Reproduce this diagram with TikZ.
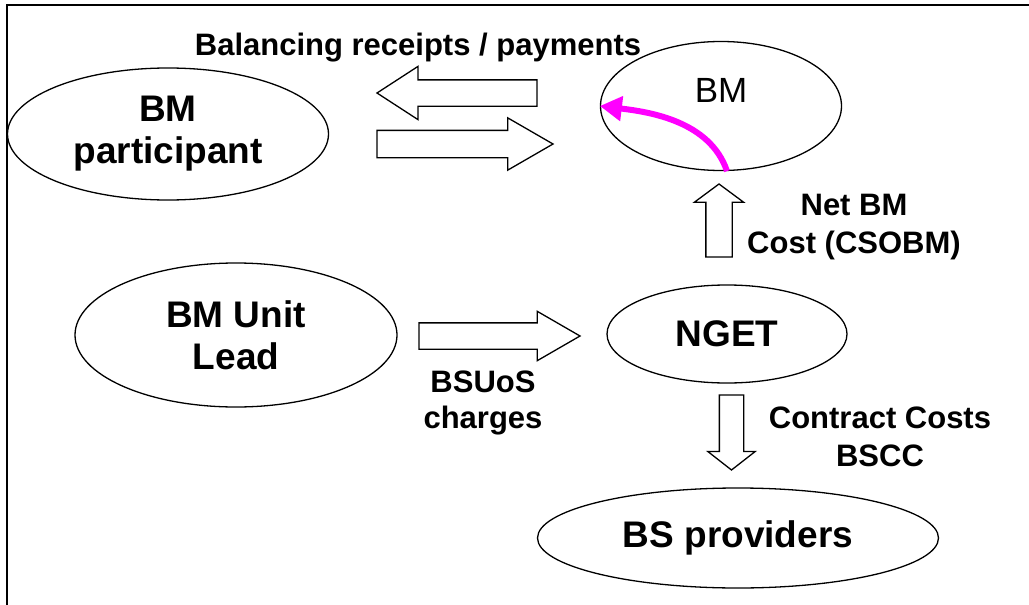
\documentclass[tikz,border=0pt]{standalone}
\usepackage{fontspec}
\setmainfont{Liberation Sans}
\usetikzlibrary{shapes, shapes.geometric, shapes.arrows, arrows.meta, positioning}
\definecolor{my_magenta}{RGB}{255, 0, 255}
\tikzset {
  party/.style = {draw, line width=1.3pt, ellipse, fill=white, text centered, align=center, inner sep=0pt, font=\bfseries\fontsize{37}{42}\selectfont},
  flow/.style = {draw, line width=1.3pt, single arrow, fill=white, inner xsep=0pt, outer sep=0pt, anchor=tail},
  note/.style = {align=center, inner sep=0pt, font=\bfseries\fontsize{31}{38}\selectfont},
  frameline/.style = {line width=1.5pt},
  recycle/.style = {-{Triangle[length=22pt, width=24pt]}, line width=6pt, color=my_magenta}
}

\begin{document}
\begin{tikzpicture}[x=1pt, y=-1pt]
    \useasboundingbox (0,0) rectangle (1029,605);
    \draw[frameline] (7,605) -- (7,5) -- (1029,5);

    % parties
    \node[party, minimum width=321pt, minimum height=132pt] (part) at (168,134) {BM\\participant};
    \node[party, minimum width=241pt, minimum height=129pt,
          label={[font=\mdseries\fontsize{35}{40}\selectfont, yshift=16pt]center:BM}] (bm) at (721,106) {};
    \node[party, minimum width=322pt, minimum height=144pt] (unit) at (236,335) {BM Unit\\Lead};
    \node[party, minimum width=240pt, minimum height=98pt] (nget) at (727,334) {NGET};
    \node[party, minimum width=401pt, minimum height=100pt] (bsp) at (738,538) {BS providers};

    % money flows (placed by their tails)
    \node[flow, rotate=180, minimum height=160pt, inner ysep=12.5pt, single arrow head extend=13.5pt, single arrow tip angle=66] (recv) at (537,93) {};
    \node[flow, minimum height=176pt, inner ysep=13pt, single arrow head extend=12.5pt, single arrow tip angle=60] (pay) at (377,144) {};
    \node[flow, rotate=90, minimum height=73pt, inner ysep=12.5pt, single arrow head extend=11.5pt, single arrow tip angle=107] (cost) at (719,257) {};
    \node[flow, minimum height=161pt, inner ysep=12.5pt, single arrow head extend=11.5pt, single arrow tip angle=60] (bsuos) at (419,336) {};
    \node[flow, rotate=-90, minimum height=75pt, inner ysep=11.5pt, single arrow head extend=11.5pt, single arrow tip angle=104] (bscc) at (731.5,395) {};

    \draw[recycle] ([xshift=6pt]bm.south) .. controls +(-17,-50) and +(50,6) .. (bm.west);

    % labels
    \node[note, anchor=base] (recvlbl) at (418,56) {Balancing receipts / payments};
    \node[note] (costlbl) at (854,227) {Net BM\\Cost (CSOBM)};
    \node[note, font=\bfseries\fontsize{31}{36}\selectfont] (bsuoslbl) at (483,403) {BSUoS\\charges};
    \node[note] (bscclbl) at (880,437) {Contract Costs\\BSCC};

  \end{tikzpicture}
\end{document}
